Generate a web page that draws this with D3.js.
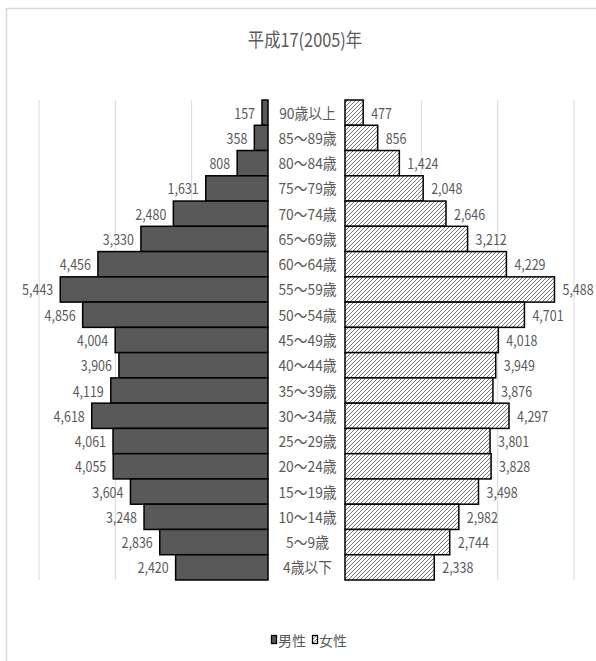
<!DOCTYPE html>
<html lang="ja">
<head>
<meta charset="utf-8">
<script src="https://cdn.jsdelivr.net/npm/d3@7"></script>
<style>
  html, body { margin: 0; padding: 0; background: #fff; }
  svg { display: block; }
  text { font-family: "Noto Sans CJK JP", "Noto Sans", sans-serif; fill: #595959; }
</style>
</head>
<body>
<script>
// 年齢階級（上から高齢順）
const ageGroups = ["90歳以上", "85～89歳", "80～84歳", "75～79歳", "70～74歳", "65～69歳", "60～64歳",
  "55～59歳", "50～54歳", "45～49歳", "40～44歳", "35～39歳", "30～34歳", "25～29歳", "20～24歳",
  "15～19歳", "10～14歳", "5～9歳", "4歳以下"];
// 男性人口
const maleValues = [157, 358, 808, 1631, 2480, 3330, 4456, 5443, 4856, 4004, 3906, 4119, 4618, 4061, 4055,
  3604, 3248, 2836, 2420];
// 女性人口
const femaleValues = [477, 856, 1424, 2048, 2646, 3212, 4229, 5488, 4701, 4018, 3949, 3876, 4297, 3801, 3828,
  3498, 2982, 2744, 2338];
const gridTicks = [2000, 4000, 6000];
const seriesNames = ["男性", "女性"];
const chartTitle = "平成17(2005)年";

const W = 596, H = 661;

const svg = d3.select("body").append("svg").attr("width", W).attr("height", H);

// 右上がり斜線パターン（女性）
const defs = svg.append("defs");
const pat = defs.append("pattern")
  .attr("id", "hatch").attr("patternUnits", "userSpaceOnUse")
  .attr("width", 4).attr("height", 4);
pat.append("rect").attr("width", 4).attr("height", 4).attr("fill", "#fff");
pat.append("path").attr("d", "M-1,1 L1,-1 M0,4 L4,0 M3,5 L5,3")
  .attr("stroke", "#666").attr("stroke-width", 0.9).attr("fill", "none");

// 外枠
svg.append("rect").attr("x", 6.5).attr("y", 8.5).attr("width", W + 10).attr("height", H + 10)
  .attr("fill", "none").attr("stroke", "#d9d9d9").attr("stroke-width", 1.5);

const y = d3.scaleBand().domain(ageGroups).range([100, 580]).padding(0);
const xM = d3.scaleLinear().domain([0, 6000]).range([268, 39]);
const xF = d3.scaleLinear().domain([0, 6000]).range([345, 574]);

// 横に詰めた文字を置く
function sText(sel, x, yy, sx) {
  return sel.attr("transform", `translate(${x},${yy}) scale(${sx},1)`);
}

// 目盛線
const g = svg.append("g");
g.selectAll(".gm").data(gridTicks).join("line")
  .attr("x1", d => xM(d)).attr("x2", d => xM(d))
  .attr("y1", y.range()[0]).attr("y2", y.range()[1])
  .attr("stroke", "#d9d9d9").attr("stroke-width", 1);
g.selectAll(".gf").data(gridTicks).join("line")
  .attr("x1", d => xF(d)).attr("x2", d => xF(d))
  .attr("y1", y.range()[0]).attr("y2", y.range()[1])
  .attr("stroke", "#d9d9d9").attr("stroke-width", 1);

// 男性の棒
svg.append("g").selectAll("rect").data(maleValues).join("rect")
  .attr("x", d => xM(d)).attr("width", d => xM(0) - xM(d))
  .attr("y", (d, i) => y(ageGroups[i])).attr("height", y.bandwidth())
  .attr("fill", "#595959").attr("stroke", "#000").attr("stroke-width", 1.5);

// 女性の棒
svg.append("g").selectAll("rect").data(femaleValues).join("rect")
  .attr("x", xF(0)).attr("width", d => xF(d) - xF(0))
  .attr("y", (d, i) => y(ageGroups[i])).attr("height", y.bandwidth())
  .attr("fill", "url(#hatch)").attr("stroke", "#000").attr("stroke-width", 1.5);

const fmt = d3.format(",");
const mid = i => y(ageGroups[i]) + y.bandwidth() / 2;

// 値ラベル
svg.append("g").selectAll("text").data(maleValues).join("text")
  .each(function (d, i) { sText(d3.select(this), xM(d) - 7, mid(i) + 6, 0.86); })
  .attr("text-anchor", "end").attr("font-size", 14.5).text(d => fmt(d));
svg.append("g").selectAll("text").data(femaleValues).join("text")
  .each(function (d, i) { sText(d3.select(this), xF(d) + 8, mid(i) + 6, 0.86); })
  .attr("text-anchor", "start").attr("font-size", 14.5).text(d => fmt(d));

// 年齢階級ラベル
svg.append("g").selectAll("text").data(ageGroups).join("text")
  .each(function (d, i) { sText(d3.select(this), 307.5, mid(i) + 6, 0.92); })
  .attr("text-anchor", "middle").attr("font-size", 15).text(d => d);

// タイトル
sText(svg.append("text"), 305, 47, 0.86).attr("text-anchor", "middle").attr("font-size", 19).text(chartTitle);

// 凡例
const lg = svg.append("g");
const legendItems = [
  { name: seriesNames[0], fill: "#595959", x: 271 },
  { name: seriesNames[1], fill: "url(#hatch)", x: 312 }
];
legendItems.forEach(it => {
  lg.append("rect").attr("x", it.x + 0.5).attr("y", 635.5).attr("width", 5).attr("height", 8)
    .attr("fill", it.fill).attr("stroke", "#000").attr("stroke-width", 1.3);
  sText(lg.append("text"), it.x + 7, 645.5, 1).attr("font-size", 14).text(it.name);
});
</script>
</body>
</html>
